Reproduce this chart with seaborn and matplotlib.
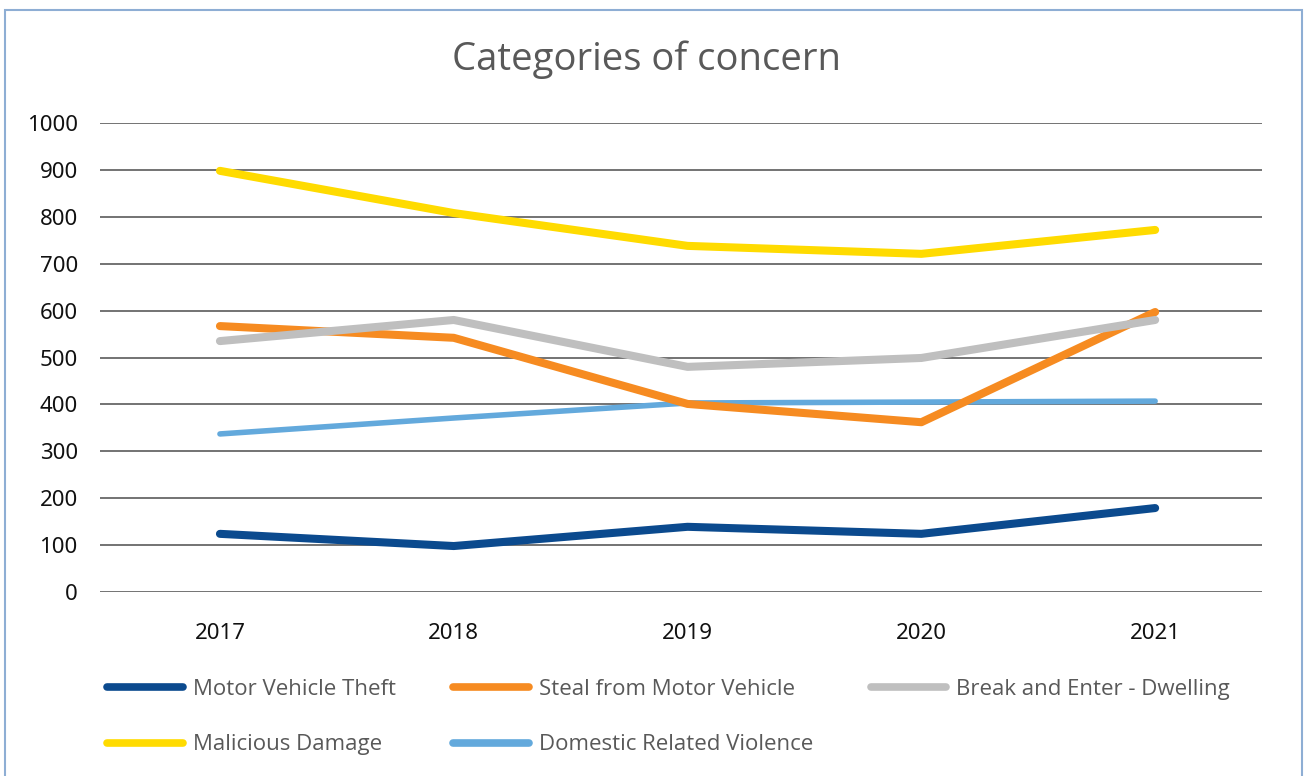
import pandas as pd
import seaborn as sns
import matplotlib.pyplot as plt
from matplotlib.lines import Line2D
from matplotlib.patches import Rectangle

years = ['2017', '2018', '2019', '2020', '2021']
motor_vehicle_theft = [124, 98, 139, 124, 179]
steal_from_motor_vehicle = [567, 542, 401, 362, 597]
break_and_enter = [535, 580, 480, 499, 580]
malicious_damage = [898, 808, 738, 721, 772]
domestic_violence = [337, 371, 403, 405, 407]

series_names = ['Motor Vehicle Theft', 'Steal from Motor Vehicle', 'Break and Enter - Dwelling',
                'Malicious Damage', 'Domestic Related Violence']
colours = ['#0b4a8e', '#f68b21', '#bfbfbf', '#ffdb00', '#63a9dc']


def main():
    sns.set_style('white')
    plt.rcParams['font.family'] = ['Open Sans', 'DejaVu Sans']

    values = [motor_vehicle_theft, steal_from_motor_vehicle, break_and_enter,
              malicious_damage, domestic_violence]
    frames = []
    for name, vals in zip(series_names, values):
        frames.append(pd.DataFrame({'year': years, 'count': vals, 'category': name}))
    data = pd.concat(frames, ignore_index=True)
    palette = dict(zip(series_names, colours))

    fig = plt.figure(figsize=(13.1, 7.76), dpi=100)
    ax = fig.add_axes([100 / 1310, 1 - 592 / 776, 1162 / 1310, 469 / 776])

    # drawing order so overlaps look like the original
    draw_order = ['Motor Vehicle Theft', 'Domestic Related Violence', 'Steal from Motor Vehicle',
                  'Break and Enter - Dwelling', 'Malicious Damage']
    widths = {'Domestic Related Violence': 4.0}
    for name in draw_order:
        sub = data[data.category == name]
        sns.lineplot(data=sub, x='year', y='count', color=palette[name], ax=ax,
                     linewidth=widths.get(name, 5.8), solid_capstyle='round', sort=False,
                     legend=False)

    ax.set_xlim(-0.513, 4.457)
    ax.set_ylim(0, 1000)
    ax.set_yticks(range(0, 1001, 100))
    ax.yaxis.grid(True, color='#4d4d4d', linewidth=1.1)
    ax.xaxis.grid(False)
    ax.set_axisbelow(True)
    for s in ax.spines.values():
        s.set_visible(False)
    ax.set_xlabel('')
    ax.set_ylabel('')
    ax.tick_params(axis='y', pad=16, length=0)
    ax.tick_params(axis='x', pad=22, length=0)
    for lab in ax.get_yticklabels() + ax.get_xticklabels():
        lab.set_family(['Noto Sans', 'DejaVu Sans'])
        lab.set_fontsize(16)
        lab.set_color('#111111')

    fig.text(647 / 1310, 1 - 60 / 776, 'Categories of concern', ha='center', va='center',
             fontsize=27.5, color='#595959')

    # legend, column-major fill for 3 columns
    legend_order = ['Motor Vehicle Theft', 'Malicious Damage', 'Steal from Motor Vehicle',
                    'Domestic Related Violence', 'Break and Enter - Dwelling']
    handles = [Line2D([], [], color=palette[n], linewidth=5.5, solid_capstyle='round')
               for n in legend_order]
    fig.legend(handles, legend_order, ncol=3, loc='upper left',
               bbox_to_anchor=(87 / 1310, 1 - 659 / 776), frameon=False,
               prop={'size': 16}, labelcolor='#595959', handlelength=3.4, handletextpad=0.45,
               columnspacing=2.6, labelspacing=1.55)

    fig.patches.append(Rectangle((5 / 1310, -0.1), 1297 / 1310, 1.1 - 10 / 776,
                                 transform=fig.transFigure, fill=False,
                                 edgecolor='#8eaed4', linewidth=1.5))

    fig.savefig('out.png', dpi=100)


if __name__ == "__main__":
    main()
